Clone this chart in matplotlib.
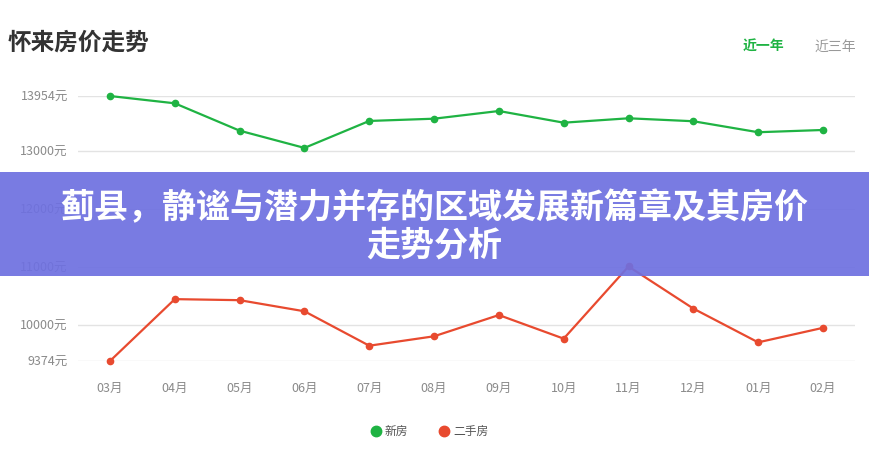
import matplotlib
matplotlib.use("Agg")
import matplotlib.pyplot as plt
from matplotlib.patches import Rectangle
from matplotlib.lines import Line2D

plt.rcParams['font.family'] = ['Noto Sans CJK SC', 'DejaVu Sans']

months = ["03月", "04月", "05月", "06月", "07月", "08月", "09月", "10月", "11月", "12月", "01月", "02月"]
new_house = [13954, 13828, 13355, 13057, 13523, 13562, 13695, 13493, 13569, 13518, 13328, 13367]
second_hand = [9374, 10443, 10425, 10233, 9638, 9801, 10168, 9760, 11008, 10280, 9696, 9947]
y_ticks = [9374, 10000, 11000, 12000, 13000, 13954]

green = "#1fb343"
red = "#e84a2f"

fig = plt.figure(figsize=(8.69, 4.51), dpi=100)
ax = fig.add_axes([0.0893, 0.1996, 0.895, 0.5875])

x = range(len(months))
ax.plot(x, new_house, color=green, lw=1.6, marker="o", ms=4.5, zorder=3, clip_on=False)
ax.plot(x, second_hand, color=red, lw=1.6, marker="o", ms=4.5, zorder=3, clip_on=False)

ax.set_xlim(-0.5, len(months) - 0.5)
ax.set_ylim(min(y_ticks), max(y_ticks))
ax.set_xticks(list(x))
ax.set_xticklabels(months)
ax.set_yticks(y_ticks)
ax.set_yticklabels([f"{v}元" for v in y_ticks])
ax.tick_params(length=0, labelsize=9, colors="#8a8a8a")
ax.tick_params(axis="x", pad=15)
ax.tick_params(axis="y", pad=7)
ax.grid(axis="y", color="#e3e3e3", lw=1)
ax.set_axisbelow(True)
for s in ax.spines.values():
    s.set_visible(False)

# header
fig.text(0.009, 0.905, "怀来房价走势", fontsize=17, weight="bold", color="#333333", va="center")
fig.text(0.879, 0.897, "近一年", fontsize=10, weight="bold", color=green, ha="center", va="center")
fig.text(0.961, 0.897, "近三年", fontsize=10, color="#999999", ha="center", va="center")

# legend
ly = 1 - 431 / 451
fig.add_artist(Line2D([376 / 869], [ly], marker="o", ms=7.5, color=green, lw=0, transform=fig.transFigure))
fig.text(385 / 869, ly, "新房", fontsize=8.5, color="#555555", va="center")
fig.add_artist(Line2D([444 / 869], [ly], marker="o", ms=7.5, color=red, lw=0, transform=fig.transFigure))
fig.text(453 / 869, ly, "二手房", fontsize=8.5, color="#555555", va="center")

# banner overlay
fig.patches.append(Rectangle((0, 1 - 276 / 451), 1, 104 / 451, transform=fig.transFigure,
                             facecolor="#6e70e0", alpha=0.92, edgecolor="none", zorder=10, figure=fig))
fig.text(0.5, 1 - 208 / 451, "蓟县，静谧与潜力并存的区域发展新篇章及其房价", fontsize=24.5, weight="bold",
         color="white", ha="center", va="center", zorder=11)
fig.text(0.5, 1 - 245 / 451, "走势分析", fontsize=24.5, weight="bold",
         color="white", ha="center", va="center", zorder=11)

fig.savefig("out.png", dpi=100)
